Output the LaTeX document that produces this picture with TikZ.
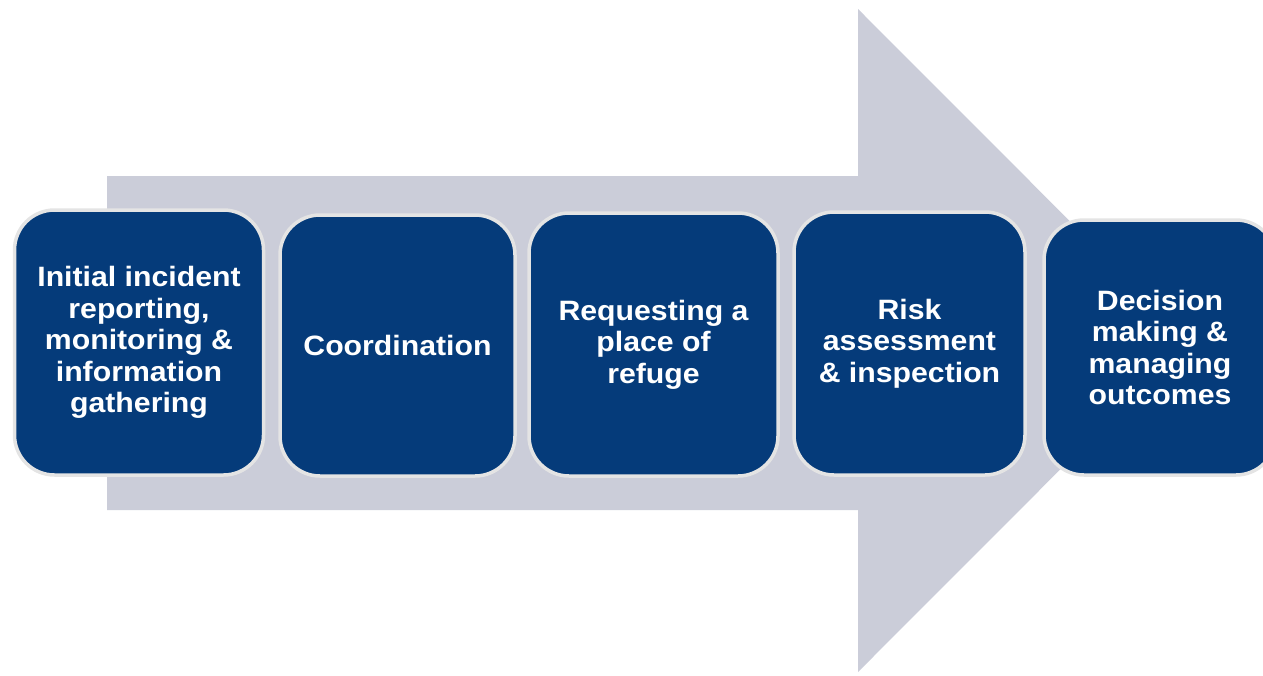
\documentclass[tikz,border=0pt]{standalone}
\usepackage{fontspec}
\setmainfont{Liberation Sans}
\newfontfamily\stagefont[FakeStretch=1.08]{Liberation Sans}
\usetikzlibrary{calc}

\definecolor{stageblue}{HTML}{053B7A}
\definecolor{stageedge}{HTML}{E4E4E4}
\definecolor{arrowgrey}{HTML}{CBCDD9}

\begin{document}
\begin{tikzpicture}[
	x=1pt, y=-1pt,
	stage/.style={rectangle, rounded corners=40pt, fill=stageblue, draw=stageedge,
		line width=3.5pt, text=white, align=center,
		font=\stagefont\bfseries\fontsize{28}{31.5}\selectfont}]

	\useasboundingbox (0,0) rectangle (1263,675);
	\clip (0,0) rectangle (1263,675);

	\def\shafttop{176}
	\def\shaftbot{510}
	\def\headx{858}

	% big process arrow behind the stages
	\fill[arrowgrey] (107,\shafttop) -- (\headx,\shafttop) -- (\headx,9)
		-- (1189,340.5) -- (\headx,672) -- (\headx,\shaftbot) -- (107,\shaftbot) -- cycle;

	\node[stage, minimum width=249pt, minimum height=265pt] (initial) at (139,342.5)
		{Initial incident\\reporting,\\monitoring \&\\information\\gathering};
	\node[stage, minimum width=235pt, minimum height=261pt] (coord) at (397.5,345.5)
		{Coordination};
	\node[stage, minimum width=249pt, minimum height=263pt] (refuge) at (653.5,344.5)
		{Requesting a\\place of\\refuge};
	\node[stage, minimum width=231pt, minimum height=263pt] (risk) at (909.5,343.5)
		{Risk\\assessment\\\& inspection};
	\node[stage, minimum width=232pt, minimum height=255pt] (decision) at (1160,347.5)
		{Decision\\making \&\\managing\\outcomes};

\end{tikzpicture}
\end{document}
